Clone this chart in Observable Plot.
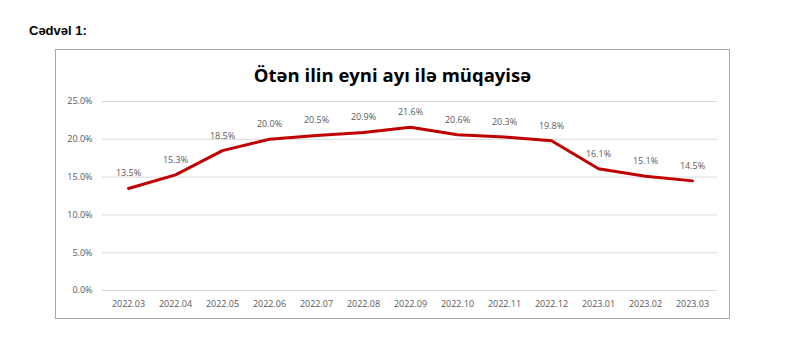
<!DOCTYPE html>
<html>
<head>
<meta charset="utf-8">
<script src="https://cdn.jsdelivr.net/npm/d3@7"></script>
<script src="https://cdn.jsdelivr.net/npm/@observablehq/plot@0.6"></script>
<style>
  html, body { margin: 0; padding: 0; background: #fff; }
  #page { position: relative; width: 786px; height: 356px; overflow: hidden; }
  #label { position: absolute; left: 29px; top: 23px; font: bold 13px "Liberation Sans", Arial, sans-serif; color: #000; }
  #box { position: absolute; left: 55px; top: 49px; width: 675px; height: 270px; box-sizing: border-box; border: 1px solid #a6a6a6; }
  #title { position: absolute; left: 55px; top: 62px; width: 675px; text-align: center; font: bold 18.5px "Open Sans", sans-serif; color: #000; }
  #chart { position: absolute; left: 55px; top: 49px; }
</style>
</head>
<body>
<div id="page">
  <div id="label">Cədvəl 1:</div>
  <div id="box"></div>
  <div id="chart"></div>
  <div id="title">Ötən ilin eyni ayı ilə müqayisə</div>
</div>
<script>
const months = ["2022.03","2022.04","2022.05","2022.06","2022.07","2022.08","2022.09","2022.10","2022.11","2022.12","2023.01","2023.02","2023.03"];
const values = [13.5,15.3,18.5,20.0,20.5,20.9,21.6,20.6,20.3,19.8,16.1,15.1,14.5];
const yTicks = [0,5,10,15,20,25];

const data = months.map((m, i) => ({month: m, value: values[i]}));

const chart = Plot.plot({
  width: 675,
  height: 270,
  marginLeft: 47,
  marginRight: 13,
  marginTop: 52,
  marginBottom: 29,
  style: {fontFamily: "'Open Sans', sans-serif", fontSize: "9px", color: "#595959", background: "transparent"},
  x: {type: "point", domain: months, padding: 0.5, label: null},
  y: {domain: [0, 25], ticks: yTicks, label: null, tickFormat: d => d.toFixed(1) + "%"},
  marks: [
    Plot.gridY(yTicks, {stroke: "#d9d9d9", strokeOpacity: 1}),
    Plot.axisY(yTicks, {tickSize: 0, tickPadding: 10, fill: "#595959", tickFormat: d => d.toFixed(1) + "%", label: null}),
    Plot.axisX({tickSize: 0, tickPadding: 10, fill: "#595959", label: null}),
    Plot.line(data, {x: "month", y: "value", stroke: "#c00000", strokeWidth: 3}),
    Plot.text(data, {x: "month", y: "value", text: d => d.value.toFixed(1) + "%", dy: -15, fill: "#595959"})
  ]
});
document.getElementById("chart").appendChild(chart);
</script>
</body>
</html>
